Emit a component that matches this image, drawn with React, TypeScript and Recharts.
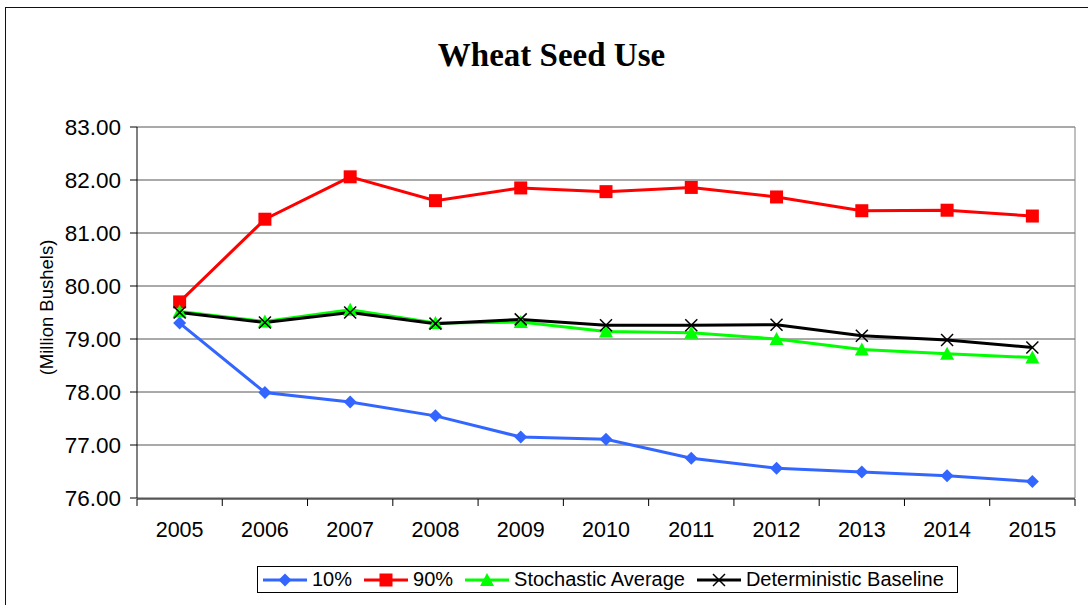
import { LineChart, Line, XAxis, YAxis, CartesianGrid } from 'recharts';

const YEARS = [2005, 2006, 2007, 2008, 2009, 2010, 2011, 2012, 2013, 2014, 2015];
const P10 = [79.3, 77.99, 77.81, 77.55, 77.15, 77.11, 76.75, 76.56, 76.49, 76.42, 76.31];
const P90 = [79.7, 81.26, 82.06, 81.61, 81.85, 81.78, 81.86, 81.68, 81.42, 81.43, 81.32];
const STOCH = [79.52, 79.33, 79.55, 79.3, 79.32, 79.14, 79.12, 79.0, 78.8, 78.72, 78.65];
const DETER = [79.5, 79.31, 79.5, 79.29, 79.37, 79.26, 79.26, 79.27, 79.06, 78.98, 78.84];
const Y_TICKS = [76, 77, 78, 79, 80, 81, 82, 83];
const YEAR_EDGES = [...YEARS.map((y) => y - 0.5), YEARS[YEARS.length - 1] + 0.5];

const data = YEARS.map((year, i) => ({
  year,
  p10: P10[i],
  p90: P90[i],
  stoch: STOCH[i],
  deter: DETER[i],
}));

const FONT = '"Liberation Sans", Arial, sans-serif';
const BLUE = '#3366FF';
const RED = '#FF0000';
const GREEN = '#00FF00';

type DotProps = { cx?: number; cy?: number };

function Diamond({ cx = 0, cy = 0 }: DotProps) {
  const r = 6.5;
  return <path d={`M${cx},${cy - r}L${cx + r},${cy}L${cx},${cy + r}L${cx - r},${cy}Z`} fill={BLUE} />;
}

function Square({ cx = 0, cy = 0 }: DotProps) {
  return <rect x={cx - 6.5} y={cy - 6.5} width={13} height={13} fill={RED} />;
}

function Triangle({ cx = 0, cy = 0 }: DotProps) {
  return <path d={`M${cx},${cy - 7}L${cx + 7},${cy + 6}L${cx - 7},${cy + 6}Z`} fill={GREEN} />;
}

function Cross({ cx = 0, cy = 0 }: DotProps) {
  const r = 6;
  return (
    <g stroke="#000" strokeWidth={1.5}>
      <line x1={cx - r} y1={cy - r} x2={cx + r} y2={cy + r} />
      <line x1={cx - r} y1={cy + r} x2={cx + r} y2={cy - r} />
    </g>
  );
}

const LEGEND = [
  { name: '10%', color: BLUE, Mark: Diamond },
  { name: '90%', color: RED, Mark: Square },
  { name: 'Stochastic Average', color: GREEN, Mark: Triangle },
  { name: 'Deterministic Baseline', color: '#000', Mark: Cross },
];

function YLabel({ viewBox }: { viewBox?: { x: number; y: number; width: number; height: number } }) {
  if (!viewBox) return null;
  const x = viewBox.x + 46;
  const y = viewBox.y + viewBox.height / 2 - 5;
  return (
    <text x={x} y={y} transform={`rotate(-90, ${x}, ${y})`} textAnchor="middle" dominantBaseline="central" fontSize={18.5} fontFamily={FONT} fill="#000">
      (Million Bushels)
    </text>
  );
}

export default function App() {
  return (
    <div style={{ position: 'absolute', left: 0, top: 0, width: 1088, height: 605, overflow: 'hidden', background: '#fff' }}>
      <style>{'body{margin:0;overflow:hidden;}'}</style>
      <div style={{ position: 'absolute', left: 5, top: 7, width: 1100, height: 620, border: '1.5px solid #111', boxSizing: 'border-box' }} />
      <div
        style={{
          position: 'absolute',
          left: 0,
          top: 39,
          width: 1103,
          textAlign: 'center',
          fontFamily: '"Liberation Serif", "Times New Roman", serif',
          fontWeight: 'bold',
          fontSize: 33,
          lineHeight: '33px',
        }}
      >
        Wheat Seed Use
      </div>
      <div style={{ position: 'absolute', left: 0, top: 0 }}>
        <LineChart width={1088} height={605} data={data} margin={{ top: 127, right: 12, bottom: 105, left: 0 }}>
          <CartesianGrid vertical={false} stroke="#555" />
          <XAxis
            xAxisId="edges"
            dataKey="year"
            type="number"
            domain={[2004.5, 2015.5]}
            ticks={YEAR_EDGES}
            interval={0}
            tickFormatter={() => ''}
            tickSize={7}
            height={1}
            axisLine={{ stroke: '#000' }}
            tickLine={{ stroke: '#000' }}
          />
          <XAxis
            dataKey="year"
            type="number"
            domain={[2004.5, 2015.5]}
            ticks={YEARS}
            interval={0}
            tickLine={false}
            axisLine={false}
            tickSize={0}
            tickMargin={24}
            height={1}
            tick={{ fill: '#000', fontSize: 21.5, fontFamily: FONT }}
          />
          <YAxis
            domain={[76, 83]}
            ticks={Y_TICKS}
            interval={0}
            width={137}
            tickSize={7}
            tickMargin={9}
            tickFormatter={(v: number) => v.toFixed(2)}
            tick={{ fill: '#000', fontSize: 22.5, fontFamily: FONT }}
            axisLine={{ stroke: '#000' }}
            tickLine={{ stroke: '#000' }}
            label={<YLabel />}
          />
          <YAxis
            yAxisId="right"
            orientation="right"
            domain={[76, 83]}
            width={1}
            tick={false}
            tickLine={false}
            axisLine={{ stroke: '#808080' }}
          />
          <Line dataKey="p10" name="10%" stroke={BLUE} strokeWidth={3} dot={<Diamond />} activeDot={false} isAnimationActive={false} />
          <Line dataKey="p90" name="90%" stroke={RED} strokeWidth={3} dot={<Square />} activeDot={false} isAnimationActive={false} />
          <Line dataKey="stoch" name="Stochastic Average" stroke={GREEN} strokeWidth={3} dot={<Triangle />} activeDot={false} isAnimationActive={false} />
          <Line dataKey="deter" name="Deterministic Baseline" stroke="#000" strokeWidth={3} dot={<Cross />} activeDot={false} isAnimationActive={false} />
        </LineChart>
      </div>
      <div
        style={{
          position: 'absolute',
          left: 257,
          top: 566,
          width: 701,
          height: 27,
          border: '1px solid #000',
          boxSizing: 'border-box',
          display: 'flex',
          alignItems: 'center',
          paddingLeft: 5,
          gap: 12,
          fontFamily: FONT,
          fontSize: 20,
        }}
      >
        {LEGEND.map(({ name, color, Mark }) => (
          <div key={name} style={{ display: 'flex', alignItems: 'center', gap: 5 }}>
            <svg width={44} height={16}>
              <line x1={0} y1={8} x2={44} y2={8} stroke={color} strokeWidth={3} />
              <Mark cx={22} cy={8} />
            </svg>
            <span>{name}</span>
          </div>
        ))}
      </div>
    </div>
  );
}
